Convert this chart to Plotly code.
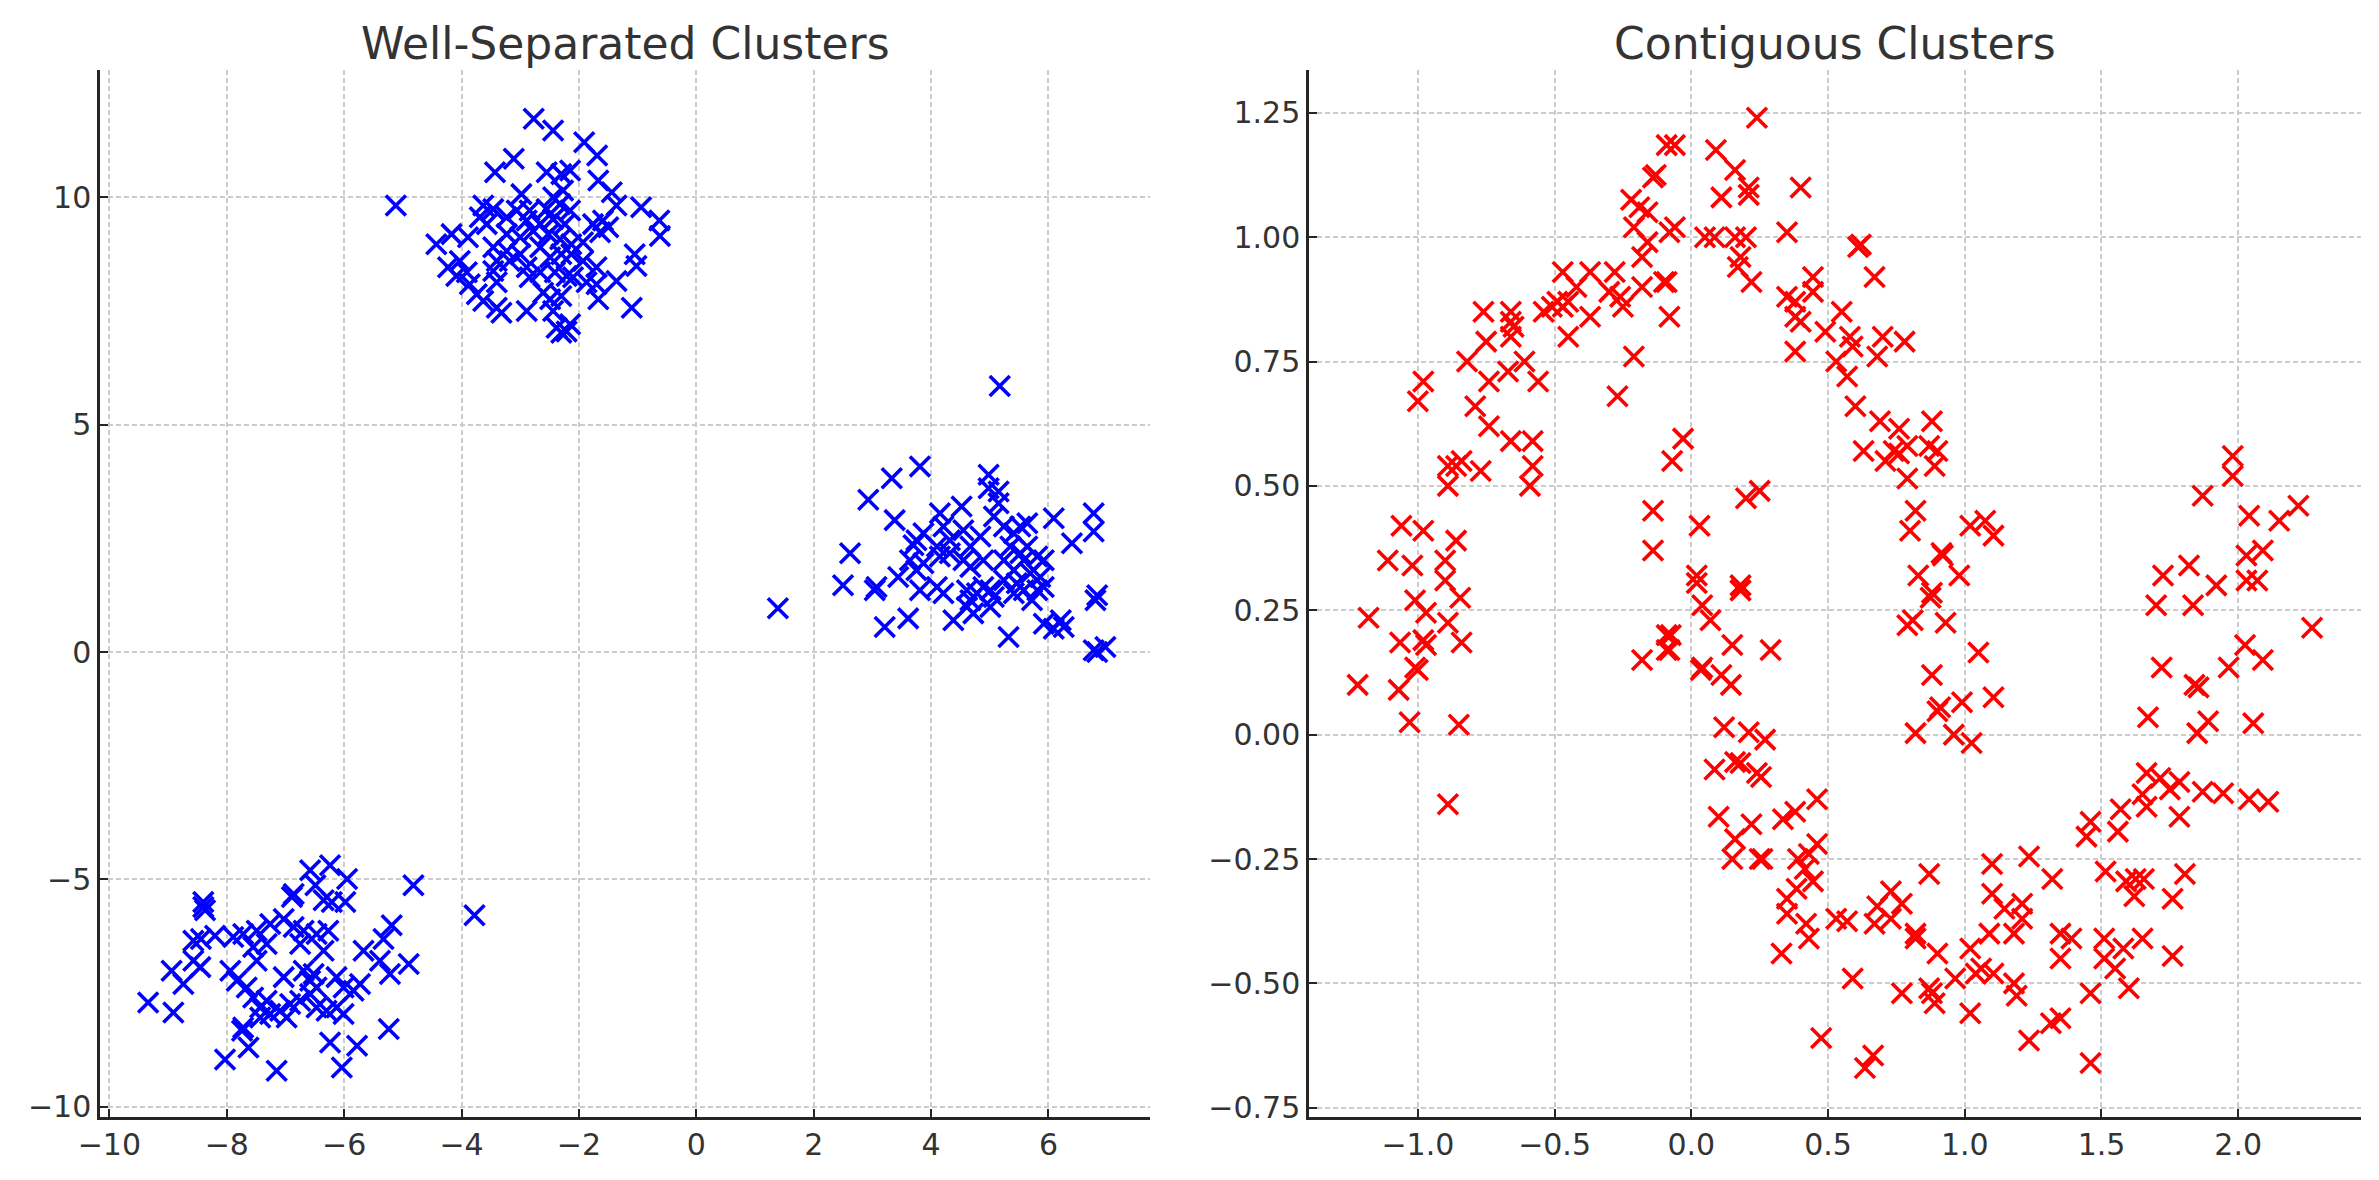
import plotly.graph_objects as go

# ---------------- Left panel: well-separated blobs ----------------
blob_top_x = [-5.12, -2.77, -2.44, -1.91, -1.69, -3.11, -3.43, -2.55, -2.30, -2.15, -1.67, -1.44, -1.36, -0.94,
              -0.63, -0.62, -2.98, -2.44, -2.27, -3.63, -3.46, -3.69, -3.23, -3.06, -2.84, -2.55, -2.32, -2.15,
              -2.44, -2.24, -2.66, -2.89, -1.76, -1.59, -1.50, -1.64, -4.43, -4.17, -3.89, -3.57, -3.23, -3.00,
              -2.78, -2.52, -2.32, -2.13, -1.93, -3.46, -3.23, -3.00, -2.66, -2.49, -2.30, -2.13, -1.93, -1.70,
              -4.23, -4.03, -3.91, -3.40, -3.18, -2.89, -1.05, -1.02, -4.09, -3.86, -3.46, -3.40, -2.84, -2.66,
              -2.41, -2.21, -2.10, -1.87, -1.70, -1.36, -3.74, -3.63, -3.40, -3.32, -2.89, -2.61, -2.49, -2.30,
              -2.44, -1.67, -1.10, -2.38, -2.30, -2.15, -2.21]
blob_top_y = [9.82, 11.73, 11.47, 11.21, 10.92, 10.85, 10.55, 10.55, 10.51, 10.59, 10.37, 10.11, 9.82, 9.78,
              9.49, 9.15, 10.07, 10.00, 10.15, 9.82, 9.74, 9.56, 9.56, 9.71, 9.71, 9.74, 9.85, 9.71,
              9.52, 9.41, 9.41, 9.49, 9.41, 9.49, 9.34, 9.23, 8.97, 9.19, 9.12, 9.41, 9.19, 9.12,
              9.26, 9.19, 9.08, 8.97, 9.01, 8.90, 8.82, 8.75, 8.90, 8.68, 8.75, 8.75, 8.60, 8.46,
              8.46, 8.60, 8.35, 8.60, 8.60, 8.46, 8.75, 8.49, 8.27, 8.09, 8.38, 8.13, 8.24, 8.35,
              8.35, 8.27, 8.24, 8.13, 8.09, 8.16, 7.87, 7.72, 7.57, 7.46, 7.50, 7.90, 7.76, 7.83,
              7.50, 7.76, 7.57, 7.13, 7.02, 7.21, 7.05]

blob_right_x = [5.17, 3.81, 3.33, 2.93, 4.98, 4.98, 5.15, 5.15, 3.38, 2.62, 2.50, 1.39, 3.07, 3.04, 3.44,
                3.21, 3.61, 3.75, 3.70, 3.87, 3.64, 3.75, 3.87, 3.81, 4.15, 4.52, 4.21, 4.32, 4.10, 4.15,
                4.32, 4.55, 4.67, 4.84, 4.55, 4.67, 4.89, 4.10, 4.21, 4.61, 4.67, 4.78, 4.89, 5.01, 5.07,
                4.38, 4.61, 4.72, 5.01, 5.32, 5.07, 5.24, 5.41, 5.52, 5.64, 5.35, 5.52, 5.64, 5.24, 5.41,
                5.58, 5.81, 5.92, 5.69, 5.86, 5.24, 5.46, 5.58, 5.81, 5.92, 5.41, 5.72, 6.09, 6.40, 6.77,
                6.77, 6.83, 6.80, 6.21, 6.09, 6.26, 6.77, 6.97, 6.83, 5.92]
blob_right_y = [5.85, 4.08, 3.82, 3.35, 3.90, 3.60, 3.53, 3.27, 2.90, 2.17, 1.47, 0.96, 1.43, 1.36, 1.65,
                0.55, 0.74, 2.46, 2.35, 2.61, 2.02, 1.80, 1.95, 1.36, 3.05, 3.20, 2.76, 2.46, 2.32, 2.10,
                2.17, 2.68, 2.32, 2.54, 2.02, 1.87, 2.02, 1.43, 1.29, 1.36, 1.14, 1.29, 1.43, 1.36, 1.21,
                0.70, 0.99, 0.85, 0.99, 0.33, 2.98, 2.76, 2.61, 2.76, 2.83, 2.32, 2.17, 2.32, 2.02, 1.80,
                2.02, 2.10, 2.02, 1.73, 1.65, 1.58, 1.51, 1.36, 1.36, 1.43, 1.29, 1.14, 2.94, 2.39, 3.05,
                2.65, 1.25, 1.14, 0.70, 0.51, 0.55, 0.04, 0.11, 0.00, 0.62]

blob_low_x = [-4.82, -3.78, -6.58, -6.24, -5.95, -6.49, -6.86, -6.89, -6.35, -6.21, -5.98, -8.40, -8.37, -8.40,
              -5.19, -5.33, -5.67, -5.39, -5.22, -4.90, -8.57, -8.44, -8.20, -7.89, -7.72, -7.49, -7.26, -7.03,
              -6.86, -6.69, -6.47, -6.27, -8.94, -8.74, -8.57, -8.45, -7.55, -7.49, -7.32, -6.75, -6.35, -7.94,
              -7.83, -7.66, -7.03, -6.69, -6.52, -6.58, -6.47, -6.13, -6.01, -5.84, -5.73, -9.34, -8.91, -7.55,
              -7.43, -7.32, -7.26, -7.09, -6.92, -6.75, -6.58, -6.47, -6.30, -6.13, -6.01, -6.98, -7.43, -7.72,
              -7.74, -7.63, -8.03, -7.15, -6.24, -5.78, -6.04, -5.24]
blob_low_y = [-5.13, -5.79, -4.80, -4.69, -4.99, -5.13, -5.32, -5.39, -5.46, -5.50, -5.50, -5.50, -5.68, -5.61,
              -6.01, -6.31, -6.57, -6.79, -7.08, -6.86, -6.35, -6.31, -6.24, -6.27, -6.20, -6.13, -5.98, -5.87,
              -6.05, -6.13, -6.20, -6.13, -7.01, -7.30, -6.79, -6.93, -6.49, -6.79, -6.42, -6.42, -6.57, -7.01,
              -7.23, -7.38, -7.15, -7.01, -7.08, -7.23, -7.38, -7.15, -7.38, -7.45, -7.30, -7.71, -7.93, -7.60,
              -7.82, -7.67, -7.96, -7.89, -7.74, -7.67, -7.52, -7.82, -7.89, -7.82, -7.96, -8.04, -8.04, -8.26,
              -8.33, -8.70, -8.96, -9.21, -8.59, -8.66, -9.14, -8.29]

# ---------------- Right panel: two interleaved moons ----------------
moon_upper_x = [-0.13, -0.14, -0.22, -0.19, -0.16, -0.21, -0.16, -0.18, -0.10, -0.18, -0.08,
                -0.47, -0.37, -0.28, -0.42, -0.30, -0.26, -0.25, -0.51, -0.49, -0.47, -0.45, -0.54, -0.37,
                -0.45, -0.76, -0.66, -0.66, -0.65, -0.66, -0.75, -0.82, -0.61, -0.67, -0.74, -0.56, -0.21,
                -0.27, -0.79, -0.74, -0.66, -0.58, -0.58, -0.59, -0.98, -1.00, -0.84, -0.89, -0.86, -0.77,
                -0.89, -1.06, -0.98, -0.86, -1.11, -1.02, -0.90, -0.90, -0.14, -0.14, -0.07,
                0.24, -0.09, -0.06, 0.09, 0.16, 0.21, 0.21, 0.11, 0.40, -0.08, -0.06, 0.05, 0.085, 0.16,
                0.20, 0.35, 0.61, 0.62, 0.67, 0.18, 0.17, 0.22, -0.09, 0.445, 0.35, 0.38, 0.445, 0.55,
                0.38, 0.40, 0.49, 0.58, 0.59, 0.70, 0.78, 0.38, 0.53, 0.57, 0.68, 0.60, 0.69, 0.76, 0.88,
                0.63, 0.74, 0.76, 0.79, 0.87, 0.90, 0.89, 0.71, 0.79, -0.03, 0.20, 0.25, 0.03, 0.82,
                0.80, 1.02, 1.075, 1.105, 0.915, 0.92, 0.83, 0.98, 0.02, 0.18,
                -1.01, -0.845, -1.18, -0.97, -0.89, -1.065, -0.98, -0.97, -0.84, -1.01, -1.00, -1.22,
                -1.07, -1.03, -0.85, -0.89, -0.18, -0.09, -0.09,
                0.88, 0.875, 0.79, 0.81, 0.93, 1.05, 0.88, 0.91, 0.90, 0.99, 1.105, 0.82, 0.96, 1.025]
moon_upper_y = [1.125, 1.12, 1.075, 1.06, 1.05, 1.02, 0.99, 0.96, 0.91, 0.90, 0.84,
                0.93, 0.93, 0.93, 0.90, 0.89, 0.88, 0.86, 0.86, 0.87, 0.86, 0.87, 0.85, 0.84,
                0.80, 0.85, 0.85, 0.83, 0.82, 0.80, 0.79, 0.75, 0.75, 0.73, 0.71, 0.71, 0.76,
                0.68, 0.66, 0.62, 0.59, 0.59, 0.54, 0.50, 0.71, 0.67, 0.55, 0.54, 0.54, 0.53,
                0.50, 0.42, 0.41, 0.39, 0.35, 0.34, 0.35, 0.31, 0.45, 0.37, 0.55,
                1.24, 1.185, 1.185, 1.175, 1.135, 1.10, 1.085, 1.08, 1.10, 1.01, 1.02, 1.00, 1.00, 1.00,
                1.00, 1.01, 0.98, 0.985, 0.92, 0.96, 0.94, 0.91, 0.91, 0.92, 0.88, 0.87, 0.89, 0.85,
                0.84, 0.83, 0.81, 0.80, 0.78, 0.80, 0.79, 0.77, 0.75, 0.72, 0.76, 0.66, 0.63, 0.615, 0.63,
                0.57, 0.57, 0.565, 0.58, 0.58, 0.57, 0.54, 0.55, 0.515, 0.595, 0.475, 0.49, 0.42, 0.45,
                0.41, 0.42, 0.43, 0.40, 0.365, 0.36, 0.32, 0.32, 0.32, 0.30,
                0.27, 0.275, 0.235, 0.245, 0.225, 0.185, 0.19, 0.18, 0.185, 0.135, 0.13, 0.10,
                0.09, 0.025, 0.02, -0.14, 0.15, 0.20, 0.17,
                0.285, 0.275, 0.22, 0.23, 0.225, 0.165, 0.12, 0.055, 0.047, 0.065, 0.075, 0.003, 0.0, -0.017]

moon_lower_x = [0.02, 0.18, 0.04, 0.07, -0.075, -0.08, 0.15, 0.29, 0.035, 0.04, 0.11, 0.145, 0.12, 0.21,
                0.27, 0.085, 0.16, 0.18, 0.24, 0.255, 0.10, 0.22, 0.16, 0.15, 0.25, 0.26, 0.335, 0.38,
                0.46, 0.39, 0.43, 0.46, 0.415, 0.445, 0.385, 0.35, 0.35, 0.42, 0.43, 0.33, 0.53, 0.57,
                0.59, 0.475, 0.665, 0.635, 0.67, 0.68, 0.73, 0.77, 0.73, 0.82, 0.82, 0.87, 0.90, 1.02,
                0.965, 1.04, 1.06, 1.105, 1.09, 1.10, 1.10, 0.77, 0.87, 0.88, 0.89, 1.02,
                1.98, 1.98, 1.87, 2.04, 2.22, 2.15, 1.725, 1.82, 2.03, 2.09, 1.92, 2.03, 2.07,
                1.70, 1.835, 2.27, 2.025, 2.09, 1.965, 1.72, 1.84, 1.855, 1.67, 1.89, 1.85, 2.055,
                1.665, 1.715, 1.65, 1.75, 1.785, 1.87, 1.945, 2.04, 2.11, 1.665, 1.785, 1.57, 1.46,
                1.445, 1.56, 1.235, 1.32, 1.515, 1.59, 1.625, 1.655, 1.62, 1.805, 1.76, 1.145, 1.21,
                1.21, 1.18, 1.35, 1.39, 1.35, 1.51, 1.51, 1.55, 1.58, 1.65, 1.76, 1.18, 1.19, 1.46,
                1.60, 1.315, 1.35, 1.235, 1.46]
moon_lower_y = [0.305, 0.29, 0.26, 0.23, 0.20, 0.17, 0.18, 0.17, 0.13, 0.135, 0.12, 0.10, 0.015, 0.005,
                -0.01, -0.07, -0.055, -0.057, -0.077, -0.085, -0.165, -0.18, -0.21, -0.25, -0.25, -0.25, -0.17, -0.155,
                -0.13, -0.25, -0.24, -0.22, -0.27, -0.295, -0.31, -0.33, -0.36, -0.38, -0.41, -0.44, -0.37, -0.375,
                -0.49, -0.61, -0.645, -0.67, -0.38, -0.345, -0.315, -0.34, -0.37, -0.41, -0.40, -0.28, -0.44, -0.43,
                -0.49, -0.48, -0.47, -0.48, -0.40, -0.32, -0.26, -0.52, -0.51, -0.52, -0.54, -0.56,
                0.56, 0.52, 0.48, 0.44, 0.46, 0.43, 0.32, 0.34, 0.36, 0.37, 0.30, 0.31, 0.31,
                0.26, 0.26, 0.215, 0.18, 0.15, 0.135, 0.135, 0.10, 0.095, 0.035, 0.027, 0.003, 0.023,
                -0.077, -0.087, -0.12, -0.11, -0.095, -0.115, -0.118, -0.13, -0.135, -0.145, -0.165, -0.15, -0.175,
                -0.205, -0.195, -0.245, -0.29, -0.275, -0.295, -0.29, -0.29, -0.325, -0.28, -0.33, -0.35, -0.34,
                -0.37, -0.40, -0.40, -0.41, -0.45, -0.41, -0.45, -0.47, -0.43, -0.41, -0.445, -0.50, -0.525, -0.52,
                -0.51, -0.58, -0.57, -0.615, -0.66]

left_ticks = [-10, -8, -6, -4, -2, 0, 2, 4, 6]
left_yticks = [-10, -5, 0, 5, 10]
right_ticks = [-1.0, -0.5, 0.0, 0.5, 1.0, 1.5, 2.0]
right_yticks = [-0.75, -0.5, -0.25, 0.0, 0.25, 0.5, 0.75, 1.0, 1.25]
titles = ["Well-Separated Clusters", "Contiguous Clusters"]

FONT = "DejaVu Sans"
TEXT = "#333333"
AX = "#262626"

left_x = blob_top_x + blob_right_x + blob_low_x
left_y = blob_top_y + blob_right_y + blob_low_y
right_x = moon_upper_x + moon_lower_x
right_y = moon_upper_y + moon_lower_y


def marker(color):
    return dict(symbol="x-thin", size=20, color=color, line=dict(color=color, width=3.6))


fig = go.Figure()
fig.add_trace(go.Scatter(x=left_x, y=left_y, mode="markers", marker=marker("#0000ff"),
                         xaxis="x", yaxis="y", showlegend=False, hoverinfo="skip"))
fig.add_trace(go.Scatter(x=right_x, y=right_y, mode="markers", marker=marker("#ff0000"),
                         xaxis="x2", yaxis="y2", showlegend=False, hoverinfo="skip"))

W, H = 2379, 1180
ydom = [1 - 1116.7 / H, 1 - 70 / H]
xdom1 = [100 / W, 1150 / W]
xdom2 = [1309 / W, 2361 / W]

common = dict(showgrid=True, gridcolor="#cccccc", gridwidth=1.5, griddash="5px,3px",
              showline=True, linecolor=AX, linewidth=2.5, ticks="inside", ticklen=8, tickwidth=2,
              tickcolor=AX, tickfont=dict(family=FONT, size=30, color=TEXT), zeroline=False,
              mirror=False, fixedrange=True, automargin=False)

fig.update_layout(
    template="none",
    width=W, height=H, autosize=False,
    margin=dict(l=0, r=0, t=0, b=0, pad=0),
    paper_bgcolor="white", plot_bgcolor="white",
    font=dict(family=FONT, color=TEXT),
    xaxis=dict(domain=xdom1, anchor="y", range=[-10.16, 7.73], tickvals=left_ticks, **common),
    yaxis=dict(domain=ydom, anchor="x", range=[-10.22, 12.80], tickvals=left_yticks, **common),
    xaxis2=dict(domain=xdom2, anchor="y2", range=[-1.398, 2.449], tickvals=right_ticks,
                tickformat=".1f", **common),
    yaxis2=dict(domain=ydom, anchor="x2", range=[-0.768, 1.336], tickvals=right_yticks,
                tickformat=".2f", **common),
)

for title, dom in zip(titles, [xdom1, xdom2]):
    fig.add_annotation(text=title, x=(dom[0] + dom[1]) / 2, y=1 - 43 / H, xref="paper", yref="paper",
                       xanchor="center", yanchor="middle", showarrow=False,
                       font=dict(family=FONT, size=44, color=TEXT))

fig.write_html("out.html")
